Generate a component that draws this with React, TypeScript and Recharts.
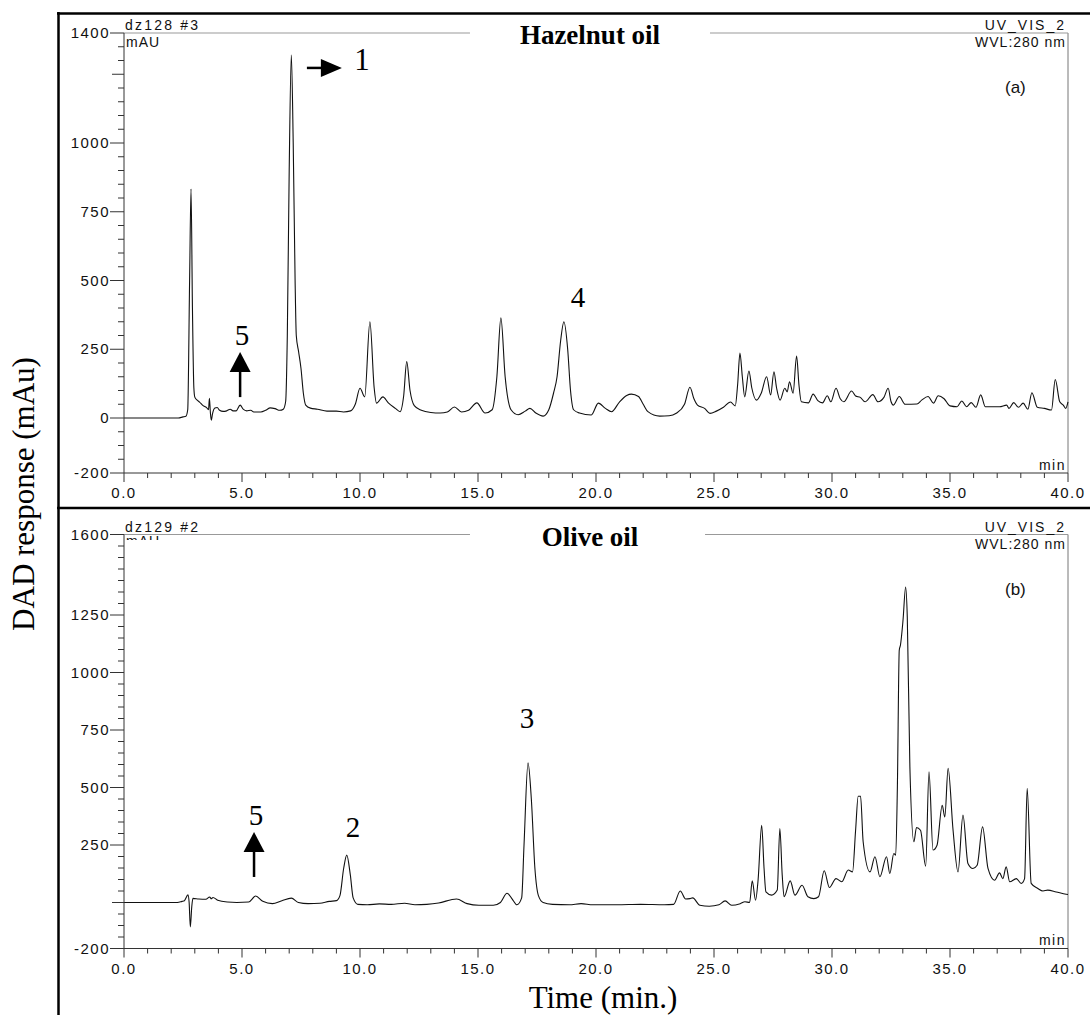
import React from 'react';
import { LineChart, Line, XAxis, YAxis, ReferenceLine, ReferenceDot } from 'recharts';

// retention time (min) and DAD signal (mAU)
const hazelnutTime = [
  0, 2.3, 2.5, 2.62, 2.7, 2.78, 2.84, 2.9, 2.96, 3.0, 3.1, 3.2, 3.35, 3.5, 3.58, 3.62, 3.66, 3.7, 3.75, 3.85,
  3.95, 4.05, 4.2, 4.35, 4.5, 4.62, 4.75, 4.92, 5.05, 5.2, 5.37, 5.5, 5.8, 6.0, 6.2, 6.4, 6.6, 6.75, 6.85, 6.92,
  7.0, 7.09, 7.17, 7.25, 7.3, 7.4, 7.5, 7.6, 7.7, 7.9, 8.2, 8.6, 9.0, 9.3, 9.6, 9.8, 10.0, 10.2, 10.42, 10.6,
  10.7, 10.97, 11.2, 11.5, 11.7, 11.85, 11.98, 12.12, 12.3, 12.6, 13.0, 13.4, 13.7, 14.0, 14.3, 14.6, 14.95, 15.3, 15.6, 15.8,
  15.97, 16.15, 16.4, 16.7, 17.0, 17.2, 17.45, 17.76, 18.0, 18.2, 18.35, 18.5, 18.64, 18.8, 18.92, 19.05, 19.3, 19.8, 20.1, 20.4,
  20.66, 21.0, 21.3, 21.5, 21.8, 22.0, 22.2, 22.7, 23.1, 23.4, 23.75, 23.98, 24.15, 24.3, 24.6, 24.83, 25.1, 25.4, 25.7, 25.9,
  26.0, 26.1, 26.2, 26.3, 26.48, 26.6, 26.8, 27.0, 27.23, 27.4, 27.54, 27.65, 27.8, 28.0, 28.1, 28.2, 28.35, 28.5, 28.6, 28.7,
  29.0, 29.2, 29.4, 29.6, 29.8, 29.95, 30.17, 30.35, 30.5, 30.83, 31.0, 31.2, 31.4, 31.73, 31.95, 32.2, 32.38, 32.5, 32.6, 32.85,
  33.1, 33.6, 33.8, 34.07, 34.3, 34.5, 34.75, 35.0, 35.3, 35.5, 35.7, 35.9, 36.1, 36.3, 36.5, 37.1, 37.4, 37.5, 37.7, 37.9,
  38.1, 38.3, 38.47, 38.7, 39.0, 39.3, 39.46, 39.65, 39.8, 39.9, 40.0,
];
const hazelnutSignal = [
  0, 0, 4, 6, 30, 500, 833, 400, 110, 76, 65, 58, 45, 38, 30, 72, 20, -8, 15, 36,
  38, 28, 24, 26, 32, 26, 26, 47, 32, 26, 28, 22, 22, 28, 37, 34, 28, 32, 60, 300,
  900, 1320, 1000, 500, 300, 240, 180, 90, 47, 36, 32, 25, 25, 22, 26, 50, 108, 77, 350, 110,
  54, 77, 55, 35, 23, 80, 205, 100, 45, 28, 20, 18, 22, 40, 22, 28, 55, 18, 30, 150,
  364, 150, 30, 12, 25, 35, 18, 7, 30, 90, 150, 280, 350, 250, 100, 30, 18, 11, 54, 35,
  23, 59, 82, 87, 78, 50, 23, 7, 8, 17, 50, 112, 70, 47, 35, 17, 25, 39, 58, 44,
  120, 236, 150, 77, 171, 110, 65, 90, 150, 84, 168, 110, 65, 108, 95, 132, 90, 225, 120, 59,
  55, 87, 63, 55, 81, 59, 108, 70, 59, 98, 80, 75, 59, 85, 59, 75, 108, 60, 47, 78,
  50, 51, 65, 78, 54, 81, 70, 44, 41, 62, 41, 56, 39, 84, 41, 41, 47, 35, 56, 39,
  54, 32, 92, 39, 35, 29, 140, 59, 47, 35, 59,
];

const oliveTime = [
  0, 2.26, 2.46, 2.56, 2.71, 2.76, 2.81, 2.87, 2.92, 3.17, 3.47, 3.63, 3.7, 3.77, 3.97, 4.38, 4.78, 5.28, 5.58, 5.88,
  6.29, 6.69, 7.09, 7.39, 7.8, 8.3, 8.7, 9.0, 9.15, 9.31, 9.44, 9.59, 9.71, 9.91, 10.31, 10.82, 11.32, 11.89, 12.33, 12.83,
  13.33, 14.09, 14.54, 15.04, 15.65, 15.95, 16.23, 16.45, 16.65, 16.85, 16.95, 17.12, 17.26, 17.41, 17.56, 17.76, 18.16, 18.87, 19.37, 19.87,
  20.88, 21.89, 22.89, 23.29, 23.57, 23.8, 23.98, 24.1, 24.4, 24.8, 25.21, 25.47, 25.75, 26.11, 26.31, 26.51, 26.62, 26.76, 26.87, 27.02,
  27.12, 27.2, 27.44, 27.68, 27.79, 27.89, 27.97, 28.23, 28.43, 28.73, 28.98, 29.23, 29.43, 29.67, 29.89, 30.17, 30.41, 30.69, 30.87, 31.0,
  31.11, 31.21, 31.32, 31.61, 31.82, 32.03, 32.31, 32.45, 32.62, 32.7, 32.77, 32.85, 32.9, 33.01, 33.12, 33.19, 33.3, 33.47, 33.58, 33.75,
  33.97, 34.11, 34.28, 34.45, 34.67, 34.78, 34.92, 35.13, 35.34, 35.55, 35.76, 35.97, 36.15, 36.38, 36.61, 36.89, 37.1, 37.24, 37.38, 37.53,
  37.81, 38.02, 38.16, 38.27, 38.44, 38.72, 38.94, 39.14, 39.5, 39.92, 40.0,
];
const oliveSignal = [
  0, 0, 5, 8, 33, 0, -106, -20, 18, 15, 14, 24, 16, 22, 10, 2, 0, 2, 28, 5,
  -5, 8, 19, 0, -5, -3, 5, 8, 30, 150, 206, 120, 20, -8, -10, -6, -8, -3, -10, -8,
  -2, 15, -5, -12, -12, 0, 40, 15, -10, 20, 250, 607, 450, 150, 30, 0, -8, -10, -5, -10,
  -10, -8, -10, -8, 50, 15, 17, 20, -12, -16, -10, 7, -12, -5, 3, 0, 94, 10, 100, 336,
  150, 46, 32, 54, 322, 120, 25, 94, 32, 75, 25, 17, 25, 138, 65, 104, 90, 141, 133, 314,
  462, 462, 264, 133, 199, 112, 199, 126, 213, 206, 500, 1097, 1119, 1228, 1372, 1241, 590, 264, 326, 314,
  158, 568, 228, 249, 423, 372, 583, 314, 133, 380, 170, 148, 162, 329, 148, 97, 129, 104, 155, 90,
  104, 83, 104, 496, 83, 61, 50, 54, 46, 36, 35,
];

const timeTicks = Array.from({ length: 41 }, (_, i) => i);
const hazelnutTicks = Array.from({ length: 33 }, (_, i) => -200 + i * 50);
const oliveTicks = Array.from({ length: 37 }, (_, i) => -200 + i * 50);
const hazelnutLabels = [1400, 1000, 750, 500, 250, 0, -200];
const hazelnutLong = [1250];
const oliveLabels = [1600, 1250, 1000, 750, 500, 250, -200];
const oliveLong = [0];

const hazelnutMarks = [
  { t: 7.75, v: 1273, text: '1', kind: 'right' },
  { t: 4.92, v: 76, text: '5', kind: 'up' },
  { t: 19.24, v: 404, text: '4', kind: 'text' },
];
const oliveMarks = [
  { t: 5.51, v: 111, text: '5', kind: 'up' },
  { t: 9.7, v: 285, text: '2', kind: 'text' },
  { t: 17.08, v: 759, text: '3', kind: 'text' },
];

const SANS = '"Liberation Sans", Arial, sans-serif';
const SERIF = '"Liberation Serif", "Times New Roman", serif';

const XTick = (props: any) => {
  const { x, y, payload } = props;
  const v = payload.value;
  const major = v % 5 === 0;
  return (
    <g>
      <line x1={x} x2={x} y1={y} y2={y + (major ? 9 : 5)} stroke="#333" />
      {major && (
        <text x={x} y={y + 25} textAnchor="middle" fontFamily={SANS} fontSize={15} letterSpacing={1.5} fill="#111">
          {v.toFixed(1)}
        </text>
      )}
    </g>
  );
};

const makeYTick = (labels: number[], longs: number[]) => (props: any) => {
  const { x, y, payload } = props;
  const v = payload.value;
  const labeled = labels.includes(v);
  const len = labeled ? 14 : longs.includes(v) ? 12 : 6;
  return (
    <g>
      <line x1={x - len} x2={x} y1={y} y2={y} stroke="#333" />
      {labeled && (
        <text x={x - 14} y={y + 5} textAnchor="end" fontFamily={SANS} fontSize={15} letterSpacing={1.5} fill="#111">
          {v}
        </text>
      )}
    </g>
  );
};

const markShape = (m: { text: string; kind: string }) => (props: any) => {
  const { cx, cy } = props;
  if (m.kind === 'right') {
    return (
      <g>
        <line x1={cx} y1={cy} x2={cx + 18} y2={cy} stroke="#000" strokeWidth={2.5} />
        <polygon points={`${cx + 14},${cy - 9} ${cx + 35},${cy} ${cx + 14},${cy + 9}`} fill="#000" />
        <text x={cx + 55} y={cy + 2} textAnchor="middle" fontFamily={SERIF} fontSize={31} fill="#000">{m.text}</text>
      </g>
    );
  }
  if (m.kind === 'up') {
    return (
      <g>
        <line x1={cx} y1={cy} x2={cx} y2={cy - 26} stroke="#000" strokeWidth={2.5} />
        <polygon points={`${cx - 10.5},${cy - 25} ${cx},${cy - 45} ${cx + 10.5},${cy - 25}`} fill="#000" />
        <text x={cx + 2} y={cy - 52} textAnchor="middle" fontFamily={SERIF} fontSize={29} fill="#000">{m.text}</text>
      </g>
    );
  }
  return (
    <text x={cx} y={cy} textAnchor="middle" fontFamily={SERIF} fontSize={29} fill="#000">{m.text}</text>
  );
};

type PanelProps = {
  top: number;
  height: number;
  times: number[];
  signal: number[];
  yMax: number;
  yTicks: number[];
  labels: number[];
  longs: number[];
  marks: { t: number; v: number; text: string; kind: string }[];
  gap: [number, number];
  margin: { top: number; right: number; bottom: number; left: number };
};

const Panel = ({ top, height, times, signal, yMax, yTicks, labels, longs, marks, gap, margin }: PanelProps) => {
  const data = times.map((t, i) => ({ t, v: signal[i] }));
  return (
    <div style={{ position: 'absolute', left: 0, top }}>
      <LineChart width={1090} height={height} data={data} margin={margin}>
        <XAxis
          dataKey="t"
          type="number"
          domain={[0, 40]}
          ticks={timeTicks}
          interval={0}
          height={30}
          tickSize={0}
          tickMargin={0}
          tickLine={false}
          tick={<XTick />}
          axisLine={{ stroke: '#333' }}
        />
        <YAxis
          type="number"
          domain={[-200, yMax]}
          ticks={yTicks}
          interval={0}
          width={60}
          tickSize={0}
          tickMargin={0}
          tickLine={false}
          tick={makeYTick(labels, longs)}
          axisLine={{ stroke: '#333' }}
          allowDataOverflow
        />
        <ReferenceLine x={40} stroke="#777" ifOverflow="visible" />
        <ReferenceLine segment={[{ x: 0, y: yMax }, { x: gap[0], y: yMax }]} stroke="#999" ifOverflow="visible" />
        <ReferenceLine segment={[{ x: gap[1], y: yMax }, { x: 40, y: yMax }]} stroke="#999" ifOverflow="visible" />
        <Line type="monotone" dataKey="v" stroke="#111" strokeWidth={1.1} dot={false} isAnimationActive={false} />
        {marks.map((m, i) => (
          <ReferenceDot key={i} x={m.t} y={m.v} r={0} ifOverflow="visible" shape={markShape(m)} />
        ))}
      </LineChart>
    </div>
  );
};

const Header = ({ y, id, title, tag, mauClip }: { y: number; id: string; title: string; tag: string; mauClip?: boolean }) => (
  <g fontFamily={SANS} fontSize={14} fill="#111">
    <text x={125} y={y} letterSpacing={2.2}>{id}</text>
    <text x={126} y={mauClip ? y + 14 : y + 17} letterSpacing={1} clipPath={mauClip ? 'url(#mauClip)' : undefined}>mAU</text>
    <text x={1066} y={y} textAnchor="end" letterSpacing={2}>UV_VIS_2</text>
    <text x={1066} y={y + 17} textAnchor="end" letterSpacing={1}>WVL:280 nm</text>
    <text x={1005} y={y + 63} fontSize={17}>{tag}</text>
    <text x={590} y={y + 14} textAnchor="middle" fontFamily={SERIF} fontSize={27} fontWeight="bold" fill="#000">
      {title}
    </text>
  </g>
);

export default function App() {
  return (
    <div style={{ position: 'absolute', left: 0, top: 0, width: 1090, height: 1015, background: '#fff', overflow: 'hidden' }}>
      <Panel
        top={0}
        height={500}
        times={hazelnutTime}
        signal={hazelnutSignal}
        yMax={1400}
        yTicks={hazelnutTicks}
        labels={hazelnutLabels}
        longs={hazelnutLong}
        marks={hazelnutMarks}
        gap={[14.66, 24.83]}
        margin={{ top: 33, right: 22, bottom: -3, left: 64 }}
      />
      <Panel
        top={500}
        height={515}
        times={oliveTime}
        signal={oliveSignal}
        yMax={1600}
        yTicks={oliveTicks}
        labels={oliveLabels}
        longs={oliveLong}
        marks={oliveMarks}
        gap={[14.66, 24.62]}
        margin={{ top: 34.5, right: 22, bottom: 36.5, left: 64 }}
      />
      <svg width={1090} height={1015} style={{ position: 'absolute', left: 0, top: 0, pointerEvents: 'none' }}>
        <defs>
          <clipPath id="mauClip">
            <rect x={100} y={500} width={100} height={40} />
          </clipPath>
        </defs>
        <line x1={58.5} y1={12} x2={58.5} y2={1015} stroke="#000" strokeWidth={2.5} />
        <line x1={57} y1={13.5} x2={1090} y2={13.5} stroke="#000" strokeWidth={2.5} />
        <line x1={57} y1={508} x2={1090} y2={508} stroke="#000" strokeWidth={2.5} />
        <Header y={30} id="dz128 #3" title="Hazelnut oil" tag="(a)" />
        <Header y={532} id="dz129 #2" title="Olive oil" tag="(b)" mauClip />
        <g fontFamily={SANS} fontSize={14} fill="#111" letterSpacing={1.5}>
          <text x={1066} y={470} textAnchor="end">min</text>
          <text x={1066} y={945} textAnchor="end">min</text>
        </g>
        <text transform="translate(34,494) rotate(-90)" textAnchor="middle" fontFamily={SERIF} fontSize={31} fill="#000">
          DAD response (mAu)
        </text>
        <text x={603} y={1008} textAnchor="middle" fontFamily={SERIF} fontSize={31} fill="#000">
          Time (min.)
        </text>
      </svg>
    </div>
  );
}
